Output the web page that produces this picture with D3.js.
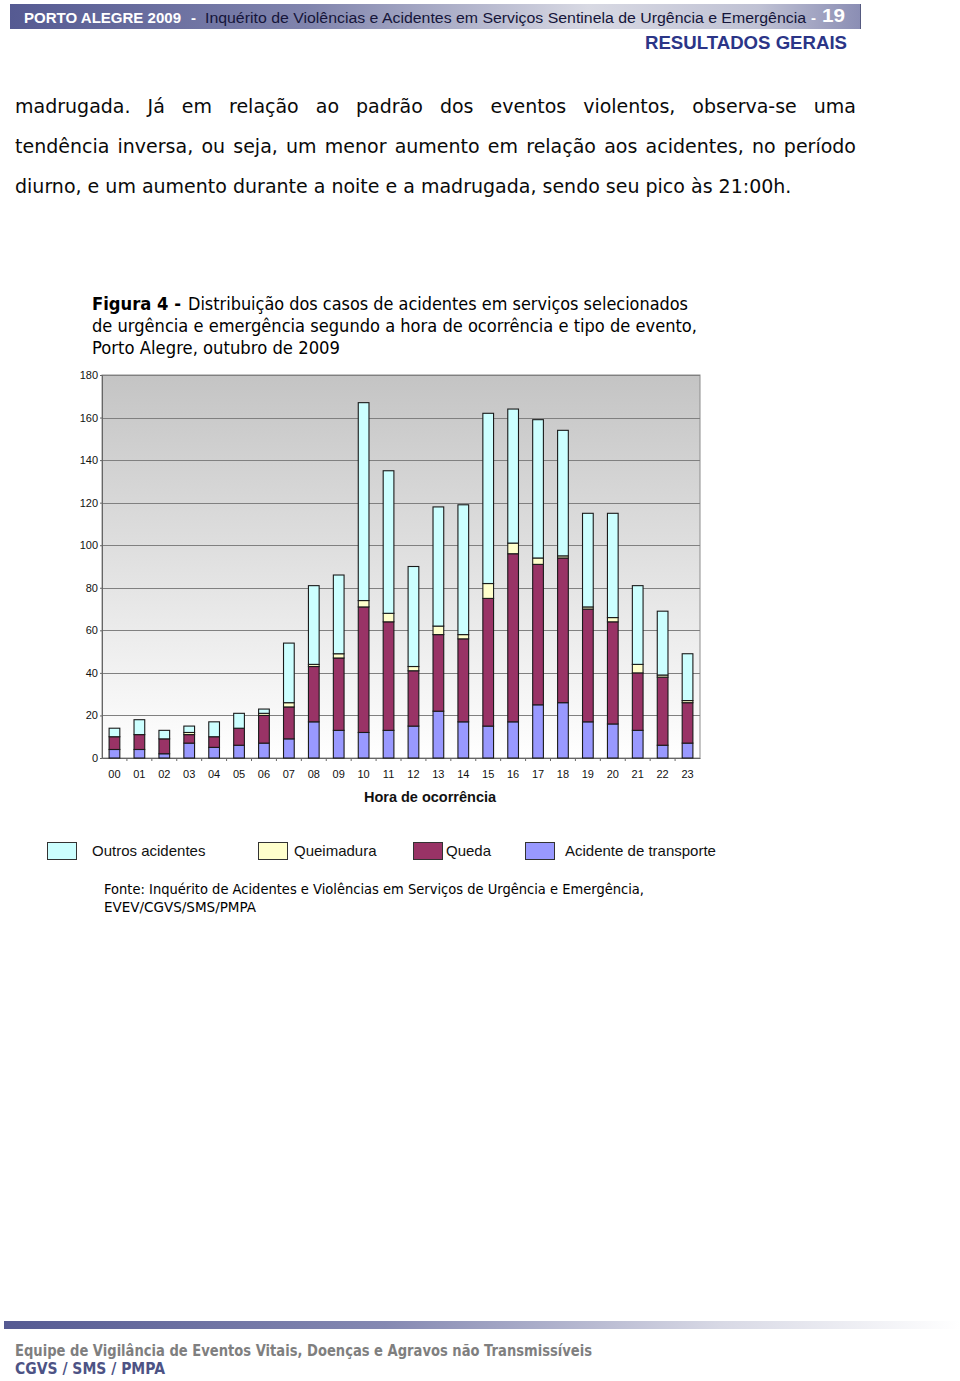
<!DOCTYPE html>
<html>
<head>
<meta charset="utf-8">
<script src="https://cdn.jsdelivr.net/npm/d3@7"></script>
<style>
  body { margin: 0; background: #fff; }
  #page { position: relative; width: 960px; height: 1381px; overflow: hidden; }
  #para { position: absolute; left: 15px; top: 86px; width: 841px;
          font-family: "DejaVu Sans", Verdana, sans-serif; font-size: 19px;
          color: #0a0a0a; line-height: 40px; }
  #para div { text-align: justify; text-align-last: justify; white-space: nowrap; }
  #para div.last { text-align-last: left; }
  svg { position: absolute; left: 0; top: 0; }
</style>
</head>
<body>
<div id="page">
  <svg id="chart" width="960" height="1381"></svg>
  <div id="para"></div>
</div>
<script>
// hours on the x axis
const hours = ["00","01","02","03","04","05","06","07","08","09","10","11",
               "12","13","14","15","16","17","18","19","20","21","22","23"];
// series, bottom to top
const transporte = [4,4,2,7,5,6,7,9,17,13,12,13,15,22,17,15,17,25,26,17,16,13,6,7];
const queda      = [6,7,7,4,5,8,13,15,26,34,59,51,26,36,39,60,79,66,68,53,48,27,32,19];
const queimadura = [0,0,0,1,0,0,1,2,1,2,3,4,2,4,2,7,5,3,1,1,2,4,1,1];
const outros     = [4,7,4,3,7,7,2,28,37,37,93,67,47,56,61,80,63,65,59,44,49,37,30,22];
const yTicks = [0,20,40,60,80,100,120,140,160,180];

const seriesNames = ["Outros acidentes","Queimadura","Queda","Acidente de transporte"];
const keys = ["transporte","queda","queimadura","outros"];
const colors = { transporte: "#9999ff", queda: "#993366", queimadura: "#ffffcc", outros: "#ccffff" };

const paraLines = [
  "madrugada. Já em relação ao padrão dos eventos violentos, observa-se uma",
  "tendência inversa, ou seja, um menor aumento em relação aos acidentes, no período",
  "diurno, e um aumento durante a noite e a madrugada, sendo seu pico às 21:00h."
];

const svg = d3.select("#chart");
const defs = svg.append("defs");
const arial = "'Liberation Sans', Arial, sans-serif";

// helper: text squeezed or stretched to a known width
function txt(x, y, s, opt) {
  const t = svg.append("text").attr("x", x).attr("y", y).text(s)
    .attr("font-family", opt.family || "'DejaVu Sans', sans-serif")
    .attr("font-size", opt.size)
    .attr("font-weight", opt.weight || "normal")
    .attr("fill", opt.fill || "#000");
  if (opt.anchor) t.attr("text-anchor", opt.anchor);
  if (opt.width) t.attr("textLength", opt.width).attr("lengthAdjust", "spacingAndGlyphs");
  return t;
}

// ---- header ----
const hg = defs.append("linearGradient").attr("id", "hg");
hg.append("stop").attr("offset", "0%").attr("stop-color", "#555a92");
hg.append("stop").attr("offset", "35%").attr("stop-color", "#8084ad");
hg.append("stop").attr("offset", "68%").attr("stop-color", "#d8d9e3");
hg.append("stop").attr("offset", "88%").attr("stop-color", "#c0c2d4");
hg.append("stop").attr("offset", "100%").attr("stop-color", "#8b8eb4");
svg.append("rect").attr("x", 10).attr("y", 4).attr("width", 850).attr("height", 25).attr("fill", "url(#hg)");
svg.append("line").attr("x1", 860.5).attr("x2", 860.5).attr("y1", 4).attr("y2", 29).attr("stroke", "#555a80");
txt(24, 23, "PORTO ALEGRE 2009", { family: arial, size: 15, weight: "bold", fill: "#fff", width: 157 });
txt(191, 23, "-", { family: arial, size: 15, weight: "bold", fill: "#fff" });
txt(205, 23, "Inquérito de Violências e Acidentes em Serviços Sentinela de Urgência e Emergência",
    { family: arial, size: 14, fill: "#15153a", width: 601 });
txt(811, 23, "-", { family: arial, size: 15, weight: "bold", fill: "#fff" });
txt(822, 22, "19", { family: arial, size: 19, weight: "bold", fill: "#fff", width: 23 });
txt(847, 49, "RESULTADOS GERAIS", { family: arial, size: 18, weight: "bold", fill: "#2b3587", anchor: "end", width: 202 });

// ---- paragraph ----
d3.select("#para").selectAll("div").data(paraLines).join("div")
  .classed("last", (d, i) => i === paraLines.length - 1)
  .text(d => d);

// ---- figure title ----
txt(92, 310, "Figura 4 -", { size: 17, weight: "bold", width: 89 });
txt(188, 310, "Distribuição dos casos de acidentes em serviços selecionados", { size: 17, width: 500 });
txt(92, 332, "de urgência e emergência segundo a hora de ocorrência e tipo de evento,", { size: 17, width: 605 });
txt(92, 354, "Porto Alegre, outubro de 2009", { size: 17, width: 248 });

// ---- chart ----
const plot = { left: 102, right: 700, top: 375, bottom: 758 };
const x = d3.scaleBand().domain(hours).range([plot.left, plot.right])
  .paddingInner(0.57).paddingOuter(0.285);
const y = d3.scaleLinear().domain([0, 180]).range([plot.bottom, plot.top]);

const bg = defs.append("linearGradient").attr("id", "bg")
  .attr("x1", 0).attr("y1", 0).attr("x2", 0).attr("y2", 1);
bg.append("stop").attr("offset", "0%").attr("stop-color", "#c4c4c4");
bg.append("stop").attr("offset", "100%").attr("stop-color", "#ffffff");
svg.append("rect").attr("x", plot.left).attr("y", plot.top)
  .attr("width", plot.right - plot.left).attr("height", plot.bottom - plot.top)
  .attr("fill", "url(#bg)").attr("stroke", "#8c8c8c");

const g = svg.append("g");
g.selectAll("line.grid").data(yTicks.slice(1)).join("line")
  .attr("class", "grid")
  .attr("x1", plot.left).attr("x2", plot.right)
  .attr("y1", d => Math.round(y(d)) + 0.5).attr("y2", d => Math.round(y(d)) + 0.5)
  .attr("stroke", "#808080");

// y axis
const yAxis = g.append("g").attr("transform", `translate(${plot.left},0)`)
  .call(d3.axisLeft(y).tickValues(yTicks).tickSize(2).tickPadding(2));
yAxis.select(".domain").attr("stroke", "#666");
yAxis.selectAll(".tick line").attr("stroke", "#666");
yAxis.selectAll("text").attr("font-family", arial).attr("font-size", 11).attr("fill", "#111");

// x axis
const xAxis = g.append("g").attr("transform", `translate(0,${plot.bottom})`)
  .call(d3.axisBottom(x).tickSize(0).tickPadding(12));
xAxis.select(".domain").attr("stroke", "#666");
xAxis.selectAll("text").attr("font-family", arial).attr("font-size", 11).attr("fill", "#111");
const step = x.step();
g.selectAll("line.xt").data(hours.slice(1)).join("line")
  .attr("class", "xt")
  .attr("x1", d => x(d) - step * 0.285).attr("x2", d => x(d) - step * 0.285)
  .attr("y1", plot.bottom).attr("y2", plot.bottom + 3)
  .attr("stroke", "#666");

// stacked bars
const rows = hours.map((h, i) => ({
  hour: h, transporte: transporte[i], queda: queda[i], queimadura: queimadura[i], outros: outros[i]
}));
const stacked = d3.stack().keys(keys)(rows);
g.selectAll("g.layer").data(stacked).join("g")
  .attr("class", "layer")
  .attr("fill", d => colors[d.key])
  .selectAll("rect").data(d => d.filter(s => s[1] > s[0])).join("rect")
  .attr("x", d => x(d.data.hour))
  .attr("y", d => y(d[1]))
  .attr("width", x.bandwidth())
  .attr("height", d => y(d[0]) - y(d[1]))
  .attr("stroke", "#1a1a1a").attr("stroke-width", 1.1);

txt(430, 802, "Hora de ocorrência", { family: arial, size: 14.5, weight: "bold", anchor: "middle", fill: "#111" });

// legend
const legendItems = [
  { name: seriesNames[0], key: "outros", box: 47, label: 92 },
  { name: seriesNames[1], key: "queimadura", box: 258, label: 294 },
  { name: seriesNames[2], key: "queda", box: 413, label: 446 },
  { name: seriesNames[3], key: "transporte", box: 525, label: 565 }
];
const lg = svg.append("g");
lg.selectAll("rect").data(legendItems).join("rect")
  .attr("x", d => d.box + 0.5).attr("y", 842.5).attr("width", 29).attr("height", 17)
  .attr("fill", d => colors[d.key]).attr("stroke", "#333");
lg.selectAll("text").data(legendItems).join("text")
  .attr("x", d => d.label).attr("y", 856)
  .attr("font-family", arial).attr("font-size", 15)
  .attr("fill", "#111").text(d => d.name);

// source
txt(104, 894, "Fonte: Inquérito de Acidentes e Violências em Serviços de Urgência e Emergência,", { size: 14, width: 540 });
txt(104, 912, "EVEV/CGVS/SMS/PMPA", { size: 14, width: 152 });

// ---- footer ----
const fg = defs.append("linearGradient").attr("id", "fg");
fg.append("stop").attr("offset", "0%").attr("stop-color", "#555a92");
fg.append("stop").attr("offset", "40%").attr("stop-color", "#8589b2");
fg.append("stop").attr("offset", "75%").attr("stop-color", "#d8d9e5");
fg.append("stop").attr("offset", "100%").attr("stop-color", "#ffffff");
svg.append("rect").attr("x", 4).attr("y", 1321).attr("width", 956).attr("height", 8).attr("fill", "url(#fg)");
txt(15, 1356, "Equipe de Vigilância de Eventos Vitais, Doenças e Agravos não Transmissíveis",
    { size: 15, weight: "bold", fill: "#7f7f7f", width: 577 });
txt(15, 1374, "CGVS / SMS / PMPA", { size: 15, weight: "bold", fill: "#4d5385", width: 150 });
</script>
</body>
</html>
